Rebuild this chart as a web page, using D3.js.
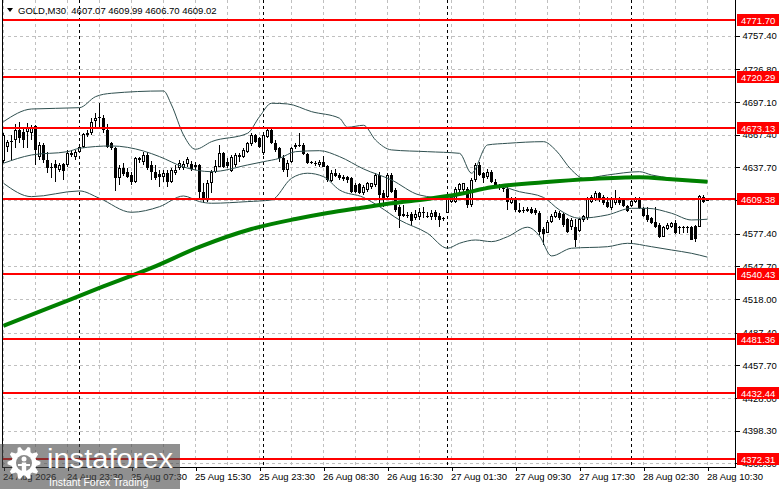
<!DOCTYPE html>
<html>
<head>
<meta charset="utf-8">
<script src="https://cdn.jsdelivr.net/npm/d3@7"></script>
<style>
  body { margin: 0; background: #ffffff; }
  text { font-family: "Liberation Sans", Arial, sans-serif; }
</style>
</head>
<body>
<script>

// candles, M30, one value per bar
const opens = [4643.5,4656.5,4661.7,4662.6,4671.7,4670.2,4670.2,4668.7,4675.6,4647.5,
  4658.1,4644.4,4638.4,4640.5,4635.3,4640.5,4639.9,4650.5,4647.5,4652.0,
  4656.5,4667.1,4668.7,4679.9,4682.3,4682.9,4671.7,4659.6,4655.0,4628.4,
  4637.5,4633.2,4630.8,4624.7,4645.9,4642.3,4649.0,4639.9,4633.2,4631.4,
  4629.3,4632.3,4624.1,4632.3,4637.5,4637.5,4640.8,4640.8,4639.9,4639.9,
  4615.7,4608.1,4623.3,4633.9,4638.4,4651.1,4643.0,4634.8,4639.9,4649.0,
  4647.5,4652.0,4659.0,4667.2,4664.2,4650.5,4665.7,4671.7,4660.2,4655.1,
  4646.0,4635.4,4643.0,4656.0,4657.2,4658.1,4649.9,4643.0,4642.0,4639.9,
  4643.0,4639.0,4625.7,4633.0,4630.8,4628.7,4628.7,4627.8,4621.7,4622.4,
  4614.1,4617.1,4620.2,4621.7,4630.8,4614.1,4611.1,4630.8,4617.1,4602.0,
  4593.5,4594.4,4595.3,4591.4,4592.9,4597.5,4593.5,4592.3,4597.5,4593.5,
  4591.4,4596.5,4606.5,4606.5,4617.1,4617.1,4617.8,4603.5,4626.2,4639.9,
  4632.3,4628.7,4633.8,4624.7,4620.2,4619.3,4617.8,4605.6,4609.6,4599.0,
  4597.8,4598.4,4599.6,4599.0,4596.5,4581.4,4578.4,4588.4,4592.3,4596.5,
  4595.3,4590.5,4583.2,4583.2,4580.2,4589.9,4591.4,4606.5,4608.7,4614.7,
  4610.5,4606.5,4600.5,4605.0,4609.6,4608.1,4602.6,4602.6,4606.5,4609.6,
  4600.5,4594.4,4591.4,4588.4,4585.3,4574.7,4581.4,4583.8,4587.5,4582.3,
  4583.2,4582.3,4583.2,4584.4,4583.8,4611.1,4607.07];
const highs = [4668.7,4662.6,4667.1,4676.8,4679.3,4674.7,4677.8,4676.2,4676.2,4660.5,
  4659.6,4652.0,4641.4,4644.4,4641.4,4641.4,4653.5,4653.5,4653.5,4658.1,
  4668.7,4671.7,4682.3,4686.8,4695.9,4685.3,4676.8,4661.1,4656.5,4639.9,
  4641.4,4636.8,4633.8,4647.5,4647.5,4652.0,4652.0,4643.5,4639.9,4635.3,
  4635.3,4635.3,4636.8,4639.9,4644.4,4643.5,4647.5,4643.9,4643.0,4640.8,
  4623.3,4626.3,4635.4,4644.5,4658.1,4652.0,4646.0,4649.0,4650.5,4650.5,
  4655.1,4661.1,4668.7,4668.1,4665.7,4668.7,4672.3,4672.3,4662.6,4656.6,
  4649.0,4644.5,4656.6,4659.6,4669.3,4659.6,4651.1,4643.9,4643.9,4644.5,
  4648.1,4639.9,4635.4,4636.0,4632.3,4630.8,4629.9,4628.7,4623.3,4623.3,
  4621.7,4624.7,4623.8,4632.3,4633.8,4617.1,4632.3,4632.3,4618.7,4603.5,
  4603.5,4597.5,4597.5,4599.0,4600.5,4602.0,4597.5,4599.0,4599.0,4595.9,
  4592.3,4611.1,4612.6,4620.2,4623.8,4623.8,4620.2,4627.8,4641.4,4642.9,
  4633.8,4635.9,4635.3,4626.8,4622.6,4621.7,4619.6,4611.1,4611.1,4605.0,
  4602.0,4602.0,4602.0,4600.5,4598.4,4583.2,4589.9,4595.3,4599.0,4598.4,
  4596.5,4591.4,4591.4,4590.5,4591.4,4594.4,4610.5,4612.6,4616.5,4615.6,
  4612.6,4610.5,4611.1,4617.1,4611.1,4609.6,4603.5,4608.7,4610.5,4610.5,
  4602.0,4602.0,4592.9,4602.0,4586.8,4584.4,4586.8,4588.4,4589.9,4584.4,
  4584.4,4584.4,4584.4,4585.3,4612.6,4612.6,4609.99];
const lows = [4641.4,4652.0,4644.4,4655.0,4659.6,4655.0,4655.0,4662.6,4639.9,4644.4,
  4641.4,4632.3,4627.8,4624.1,4633.8,4626.2,4638.4,4647.5,4644.4,4650.5,
  4655.6,4665.6,4667.1,4673.2,4673.2,4668.7,4655.0,4653.5,4616.2,4621.7,
  4630.2,4627.8,4621.7,4623.2,4641.4,4639.9,4635.3,4626.2,4626.2,4620.2,
  4624.7,4620.2,4623.2,4630.8,4635.3,4635.3,4638.4,4634.8,4635.4,4608.1,
  4605.1,4606.6,4614.2,4632.3,4637.8,4636.9,4636.9,4633.9,4637.8,4643.0,
  4646.0,4650.5,4657.2,4659.6,4655.1,4649.0,4664.2,4659.0,4652.0,4643.0,
  4633.9,4628.7,4642.0,4654.2,4656.6,4649.0,4640.8,4640.8,4639.0,4638.4,
  4637.8,4624.8,4624.8,4628.7,4626.3,4625.7,4623.9,4614.8,4614.8,4613.6,
  4612.6,4615.6,4617.8,4620.2,4603.5,4602.0,4609.6,4614.1,4597.5,4582.3,
  4592.3,4591.4,4584.4,4589.9,4589.9,4591.4,4591.4,4589.9,4589.9,4583.2,
  4589.3,4595.9,4605.6,4605.0,4614.7,4614.1,4600.5,4602.0,4624.7,4629.9,
  4623.2,4626.8,4623.2,4618.7,4617.1,4615.6,4599.0,4604.4,4597.5,4596.5,
  4596.5,4597.5,4595.3,4594.4,4576.2,4567.2,4577.8,4586.8,4591.4,4589.9,
  4583.8,4577.8,4580.8,4565.0,4579.3,4588.4,4589.9,4605.6,4607.5,4606.5,
  4603.5,4600.5,4599.0,4603.5,4603.5,4601.4,4597.5,4602.0,4605.0,4599.6,
  4592.3,4588.4,4586.2,4582.3,4573.2,4574.1,4580.8,4582.3,4577.2,4577.2,
  4577.8,4578.4,4577.2,4570.2,4583.2,4605.6,4606.70];
const closes = [4667.1,4660.5,4660.5,4671.7,4664.1,4662.6,4673.2,4674.7,4653.5,4658.1,
  4644.4,4637.5,4636.8,4636.8,4639.9,4634.4,4650.5,4649.0,4651.4,4656.5,
  4667.8,4669.3,4679.3,4682.3,4683.8,4671.7,4656.5,4655.0,4628.4,4636.8,
  4631.4,4629.3,4624.7,4646.5,4644.4,4649.0,4636.8,4633.8,4628.4,4629.3,
  4632.3,4624.7,4635.3,4635.3,4641.4,4640.5,4645.1,4636.0,4637.8,4615.7,
  4608.1,4623.9,4633.9,4639.0,4651.1,4638.4,4639.0,4647.5,4649.0,4647.5,
  4653.6,4659.6,4667.2,4661.1,4656.0,4667.2,4671.7,4659.6,4653.6,4646.0,
  4635.4,4642.0,4655.1,4658.1,4658.1,4649.9,4642.0,4641.4,4640.8,4643.0,
  4638.4,4626.3,4633.0,4629.9,4627.8,4626.9,4626.3,4615.7,4615.7,4614.2,
  4620.2,4623.2,4623.2,4630.8,4612.6,4608.1,4630.8,4615.6,4599.0,4593.5,
  4595.3,4593.5,4589.3,4595.3,4597.5,4595.9,4592.3,4596.5,4592.3,4589.9,
  4590.5,4609.6,4610.5,4617.8,4622.6,4623.2,4603.5,4626.2,4639.9,4630.8,
  4627.8,4633.8,4624.7,4619.6,4618.7,4617.8,4606.5,4609.6,4599.0,4597.5,
  4599.0,4599.6,4596.5,4596.5,4579.3,4577.2,4588.4,4593.5,4597.5,4591.4,
  4585.3,4579.3,4589.9,4571.7,4590.5,4593.5,4609.6,4610.5,4614.7,4608.1,
  4605.0,4602.0,4609.6,4609.6,4605.0,4602.6,4598.4,4607.5,4609.6,4600.5,
  4593.5,4589.9,4587.5,4583.2,4574.7,4583.2,4585.3,4587.5,4577.8,4583.2,
  4582.3,4583.2,4571.7,4572.3,4611.7,4606.5,4609.02];

// moving average (thick green), sampled [bar, price]
const maPoints = [[0,4493.6],[12,4510.8],[24,4528.1],[37,4546.3],[49,4565.4],[62,4581.7],
  [73,4590.8],[81,4596.3],[90,4601.3],[97,4605.1],[106,4609.0],[114,4613.5],
  [122,4619.6],[135,4624.2],[147,4627.2],[159,4628.7],[167,4626.9],[176,4624.7]];

// bollinger bands, sampled [bar, price]
const bbUpper = [[0,4679.3],[7,4690.8],[19,4692.0],[23,4702.0],[27,4705.1],[40,4707.2],
  [42,4694.5],[45,4667.2],[48,4654.2],[52,4661.1],[61,4668.7],[64,4683.8],[67,4696.0],
  [71,4695.4],[77,4688.4],[84,4682.4],[86,4674.2],[90,4676.0],[93,4662.6],[97,4653.6],
  [106,4652.0],[114,4650.5],[117,4632.4],[121,4658.1],[126,4659.6],[135,4661.1],
  [138,4653.6],[142,4635.4],[145,4627.8],[151,4630.8],[159,4633.8],[162,4630.8],
  [167,4627.8],[172,4624.7],[176,4624.7]];
const bbMiddle = [[0,4641.5],[7,4649.0],[16,4652.0],[19,4655.1],[27,4657.2],[35,4652.6],
  [39,4647.5],[45,4638.1],[52,4633.8],[61,4639.9],[65,4642.9],[69,4646.0],[73,4652.0],
  [79,4652.9],[84,4647.5],[90,4636.3],[97,4626.3],[104,4612.6],[111,4609.6],[114,4612.6],
  [118,4617.8],[124,4620.2],[129,4615.6],[135,4610.4],[139,4599.0],[144,4591.5],
  [151,4594.5],[157,4600.5],[161,4600.5],[167,4596.0],[172,4589.9],[176,4590.6]];
const bbLower = [[0,4623.3],[7,4611.1],[19,4616.3],[24,4609.6],[32,4596.9],[39,4602.0],
  [45,4611.7],[49,4606.6],[52,4605.1],[61,4606.6],[67,4608.1],[72,4627.8],[76,4632.4],
  [80,4629.3],[84,4617.2],[90,4610.4],[94,4602.0],[99,4589.9],[106,4577.8],[111,4564.2],
  [114,4568.7],[118,4571.7],[122,4570.2],[126,4574.7],[131,4583.3],[134,4575.4],
  [137,4557.2],[142,4564.2],[151,4565.6],[156,4568.7],[162,4565.6],[167,4562.6],
  [172,4559.6],[176,4556.1]];

// horizontal levels (red)
const levels = [4771.70, 4720.29, 4673.13, 4609.38, 4540.43, 4481.36, 4432.44, 4372.31];

// price axis
const yTicks = [4757.40, 4726.80, 4697.10, 4667.40, 4637.70, 4608.00, 4577.40,
  4547.70, 4518.00, 4487.40, 4457.70, 4428.00, 4398.30, 4368.60];

// time axis
const timeBars = [0, 16, 32, 48, 64, 80, 96, 112, 128, 144, 160, 176];
const timeLabels = ["24 Aug 2026", "24 Aug 23:30", "25 Aug 07:30", "25 Aug 15:30",
  "25 Aug 23:30", "26 Aug 08:30", "26 Aug 16:30", "27 Aug 01:30", "27 Aug 09:30",
  "27 Aug 17:30", "28 Aug 02:30", "28 Aug 10:30"];
const dayBreaks = [19, 65, 111, 157];

const header = "GOLD,M30  4607.07 4609.99 4606.70 4609.02";

// sizes
const width = 781;
const height = 489;
const plot = { left: 2, right: 735, top: 0, bottom: 467 };

const svg = d3.select("body")
    .append("svg")
    .attr("width", width)
    .attr("height", height)
    .style("display", "block");

var xScale = d3.scaleLinear()
    .domain([0, opens.length - 1])
    .range([3.5, 3.5 + 4 * (opens.length - 1)]);
var yScale = d3.scaleLinear()
    .domain([4365.3, 4789.9])
    .range([plot.bottom, plot.top]);

svg.append("clipPath").attr("id", "plotClip")
    .append("rect")
    .attr("x", plot.left + 1).attr("y", plot.top)
    .attr("width", plot.right - plot.left - 1).attr("height", plot.bottom - plot.top);

function drawGrid() {
    const g = svg.append("g").attr("shape-rendering", "crispEdges");

    g.selectAll(".hgrid").data(yTicks).enter()
        .append("line")
        .attr("x1", plot.left).attr("x2", plot.right)
        .attr("y1", d => Math.round(yScale(d)) + 0.5)
        .attr("y2", d => Math.round(yScale(d)) + 0.5)
        .attr("stroke", "#c0c0c0")
        .attr("stroke-dasharray", "3,3");

    g.selectAll(".vgrid").data(d3.range(0, opens.length, 8)).enter()
        .append("line")
        .attr("x1", d => xScale(d)).attr("x2", d => xScale(d))
        .attr("y1", plot.top).attr("y2", plot.bottom)
        .attr("stroke", "#c0c0c0")
        .attr("stroke-dasharray", "3,3");

    // day separators
    g.selectAll(".sep").data(dayBreaks).enter()
        .append("line")
        .attr("x1", d => xScale(d)).attr("x2", d => xScale(d))
        .attr("y1", plot.top).attr("y2", plot.bottom)
        .attr("stroke", "#000000")
        .attr("stroke-dasharray", "3,3");
}

function drawCandles() {
    const g = svg.append("g")
        .attr("clip-path", "url(#plotClip)")
        .attr("shape-rendering", "crispEdges");

    const bars = g.selectAll(".candle").data(d3.range(opens.length)).enter()
        .append("g").attr("class", "candle");

    // wick
    bars.append("rect")
        .attr("x", i => xScale(i) - 0.5)
        .attr("width", 1)
        .attr("y", i => Math.round(yScale(highs[i])))
        .attr("height", i => Math.max(1, Math.round(yScale(lows[i])) - Math.round(yScale(highs[i]))))
        .attr("fill", "#000");

    // body
    bars.append("rect")
        .attr("x", i => xScale(i) - 1.5)
        .attr("width", 3)
        .attr("y", i => Math.round(yScale(Math.max(opens[i], closes[i]))))
        .attr("height", i => Math.max(1, Math.round(yScale(Math.min(opens[i], closes[i])))
            - Math.round(yScale(Math.max(opens[i], closes[i])))))
        .attr("fill", "#000");

    // hollow inside for up candles
    bars.filter(i => closes[i] > opens[i])
        .append("rect")
        .attr("x", i => xScale(i) - 0.5)
        .attr("width", 1)
        .attr("y", i => Math.round(yScale(closes[i])) + 1)
        .attr("height", i => Math.max(0, Math.round(yScale(opens[i])) - Math.round(yScale(closes[i])) - 2))
        .attr("fill", "#fff");
}

function drawIndicators() {
    const g = svg.append("g").attr("clip-path", "url(#plotClip)");
    const line = d3.line()
        .x(d => xScale(d[0]))
        .y(d => yScale(d[1]))
        .curve(d3.curveMonotoneX);

    [bbUpper, bbMiddle, bbLower].forEach(band => {
        g.append("path")
            .attr("d", line(band))
            .attr("fill", "none")
            .attr("stroke", "#2f4f4f")
            .attr("stroke-width", 1);
    });

    g.append("path")
        .attr("d", line(maPoints))
        .attr("fill", "none")
        .attr("stroke", "#008000")
        .attr("stroke-width", 4);
}

function drawAxes() {
    const yAxis = d3.axisRight(yScale)
        .tickValues(yTicks)
        .tickSize(4)
        .tickSizeOuter(0)
        .tickFormat(d => d.toFixed(2));

    const yg = svg.append("g")
        .attr("transform", "translate(" + (plot.right + 0.5) + ",0)")
        .attr("shape-rendering", "crispEdges")
        .call(yAxis);
    yg.select(".domain").remove();
    yg.selectAll("text")
        .attr("font-size", "9.5px")
        .attr("font-family", "Liberation Sans, Arial, sans-serif")
        .attr("fill", "#000");

    const xAxis = d3.axisBottom(xScale)
        .tickValues(timeBars)
        .tickSize(3)
        .tickSizeOuter(0)
        .tickFormat((d, i) => timeLabels[i]);

    const xg = svg.append("g")
        .attr("transform", "translate(0," + (plot.bottom + 0.5) + ")")
        .attr("shape-rendering", "crispEdges")
        .call(xAxis);
    xg.select(".domain").remove();
    xg.selectAll("text")
        .attr("text-anchor", "start")
        .attr("x", -1)
        .attr("y", 6)
        .attr("font-size", "9.5px")
        .attr("font-family", "Liberation Sans, Arial, sans-serif")
        .attr("fill", "#000");

    // frame
    svg.append("path")
        .attr("d", "M" + (plot.left + 0.5) + "," + plot.top
            + "V" + (plot.bottom + 0.5) + "H" + (plot.right + 0.5) + "V" + plot.top)
        .attr("fill", "none")
        .attr("stroke", "#000")
        .attr("shape-rendering", "crispEdges");
}

function drawLevels() {
    const g = svg.append("g");
    g.selectAll(".level").data(levels).enter()
        .append("line")
        .attr("x1", plot.left + 1).attr("x2", plot.right)
        .attr("y1", d => Math.round(yScale(d)))
        .attr("y2", d => Math.round(yScale(d)))
        .attr("stroke", "#ff0000")
        .attr("stroke-width", 2)
        .attr("shape-rendering", "crispEdges");

    g.selectAll(".levelBox").data(levels).enter()
        .append("rect")
        .attr("x", plot.right + 2)
        .attr("y", d => Math.round(yScale(d)) - 6)
        .attr("width", 42)
        .attr("height", 12)
        .attr("fill", "#ff0000");

    g.selectAll(".levelText").data(levels).enter()
        .append("text")
        .attr("x", plot.right + 6)
        .attr("y", d => Math.round(yScale(d)) + 3.5)
        .attr("font-size", "9.5px")
        .attr("fill", "#ffffff")
        .text(d => d.toFixed(2));
}

function drawHeader() {
    svg.append("path")
        .attr("d", "M7,8 L13,8 L10,12 Z")
        .attr("fill", "#000");
    svg.append("text")
        .attr("x", 18)
        .attr("y", 14)
        .attr("font-size", "9.5px")
        .attr("fill", "#000")
        .attr("xml:space", "preserve")
        .text(header);
}

function drawWatermark() {
    const g = svg.append("g");
    g.append("rect")
        .attr("x", 0).attr("y", 444)
        .attr("width", 180).attr("height", 45)
        .attr("fill", "rgb(70,70,70)")
        .attr("fill-opacity", 0.6);

    // gear
    const cx = 24, cy = 463;
    const pts = d3.range(40).map(k => {
        const a = (k - 0.5) * Math.PI / 20;
        const r = (Math.floor(k / 2) % 2 === 0) ? 16.5 : 12.5;
        return [cx + r * Math.cos(a), cy + r * Math.sin(a)];
    });
    g.append("path")
        .attr("d", d3.line()(pts) + "Z")
        .attr("fill", "#ffffff");
    g.append("circle")
        .attr("cx", cx).attr("cy", cy).attr("r", 8)
        .attr("fill", "#8a8a8a");
    g.append("circle")
        .attr("cx", cx).attr("cy", cy - 4).attr("r", 2.5)
        .attr("fill", "#ffffff");
    g.append("rect")
        .attr("x", cx - 2.2).attr("y", cy - 0.5)
        .attr("width", 4.4).attr("height", 11)
        .attr("fill", "#ffffff");
    g.append("rect")
        .attr("x", cx - 6).attr("y", cy + 1)
        .attr("width", 12).attr("height", 2)
        .attr("fill", "#ffffff");

    g.append("text")
        .attr("x", 47).attr("y", 468)
        .attr("font-family", "Open Sans, sans-serif")
        .attr("font-size", "27px")
        .attr("textLength", 126)
        .attr("lengthAdjust", "spacingAndGlyphs")
        .attr("fill", "#ffffff")
        .text("instaforex");
    g.append("text")
        .attr("x", 49).attr("y", 486)
        .attr("font-family", "Open Sans, sans-serif")
        .attr("font-size", "10.5px")
        .attr("fill", "#ffffff")
        .text("Instant Forex Trading");
}

drawGrid();
drawCandles();
drawIndicators();
drawAxes();
drawLevels();
drawHeader();
drawWatermark();

</script>
</body>
</html>
